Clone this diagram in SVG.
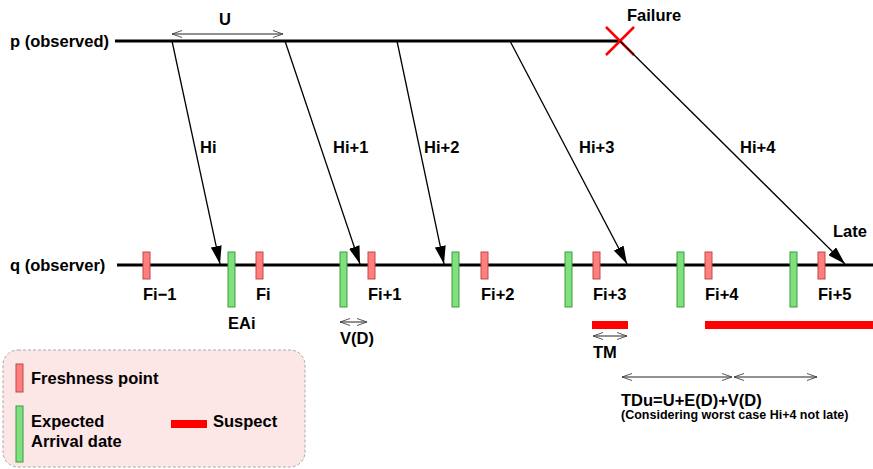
<svg xmlns="http://www.w3.org/2000/svg" width="873" height="469" viewBox="0 0 873 469">
<defs>
<style>
text{font-family:"Liberation Sans",Arial,sans-serif;font-weight:bold;font-size:16.5px;fill:#000}
.fp{fill:#ff7f7f;stroke:#c04848;stroke-width:1}
.ea{fill:#7ee07e;stroke:#3f9a3f;stroke-width:1}
.msg{stroke:#000;stroke-width:1.3;fill:none;marker-end:url(#ah)}
.dim{stroke:#222;stroke-width:1;fill:none;marker-start:url(#oa);marker-end:url(#oa)}
.tl{stroke:#000;stroke-width:3;fill:none}
.sus{fill:#ff0000}
</style>
<marker id="ah" viewBox="0 0 18 11" refX="18" refY="5.5" markerWidth="18" markerHeight="11" markerUnits="userSpaceOnUse" orient="auto">
<path d="M0,0 L18,5.5 L0,11 Z" fill="#000"/>
</marker>
<marker id="oa" viewBox="0 0 10 8" refX="10" refY="4" markerWidth="10" markerHeight="8" markerUnits="userSpaceOnUse" orient="auto-start-reverse">
<path d="M0,0.5 L10,4 L0,7.5" fill="none" stroke="#444" stroke-width="0.9"/>
</marker>
</defs>

<g id="timelines">
<line class="tl" x1="115" y1="41" x2="620" y2="41"/>
<text x="10" y="47">p (observed)</text>
<line class="tl" x1="117" y1="265" x2="873" y2="265"/>
<text x="10" y="271">q (observer)</text>
</g>

<g id="failure">
<path d="M606,27 L634,55 M634,27 L606,55" stroke="#ff0000" stroke-width="2.5" fill="none"/>
<text x="627" y="21">Failure</text>
</g>

<g id="connectors">
<path class="msg" d="M172,41 L220,264"/>
<path class="msg" d="M285,41 L360,264"/>
<path class="msg" d="M397,41 L444,264"/>
<path class="msg" d="M510,41 L627,264"/>
<path class="msg" d="M620,41 L845,264"/>
<path class="dim" d="M172,34 L283,34"/>
<path class="dim" d="M340,322 L367,322"/>
<path class="dim" d="M593,336 L627,336"/>
<path class="dim" d="M622,377 L732,377"/>
<path class="dim" d="M734,377 L817,377"/>
</g>

<g id="msg-labels">
<text x="219" y="25">U</text>
<text x="200" y="153">Hi</text>
<text x="333" y="153">Hi+1</text>
<text x="424" y="153">Hi+2</text>
<text x="579" y="153">Hi+3</text>
<text x="740" y="153">Hi+4</text>
<text x="833" y="237">Late</text>
</g>

<g id="freshness-points">
<rect class="fp" x="143" y="252" width="7" height="27"/>
<rect class="fp" x="256" y="252" width="7" height="27"/>
<rect class="fp" x="368" y="252" width="7" height="27"/>
<rect class="fp" x="481" y="252" width="7" height="27"/>
<rect class="fp" x="593" y="252" width="7" height="27"/>
<rect class="fp" x="705" y="252" width="7" height="27"/>
<rect class="fp" x="818" y="252" width="7" height="27"/>
<text x="143" y="300">Fi−1</text>
<text x="256" y="300">Fi</text>
<text x="368" y="300">Fi+1</text>
<text x="481" y="300">Fi+2</text>
<text x="593" y="300">Fi+3</text>
<text x="705" y="300">Fi+4</text>
<text x="818" y="300">Fi+5</text>
</g>

<g id="expected-arrivals">
<rect class="ea" x="228" y="252" width="7" height="55"/>
<rect class="ea" x="340" y="252" width="7" height="55"/>
<rect class="ea" x="452" y="252" width="7" height="55"/>
<rect class="ea" x="565" y="252" width="7" height="55"/>
<rect class="ea" x="677" y="252" width="7" height="55"/>
<rect class="ea" x="790" y="252" width="7" height="55"/>
<text x="228" y="329">EAi</text>
<text x="340" y="344">V(D)</text>
</g>

<g id="suspect">
<rect class="sus" x="592" y="321" width="36" height="8"/>
<rect class="sus" x="705" y="321" width="168" height="8"/>
<text x="593" y="358">TM</text>
</g>

<g id="tdu">
<text x="621" y="406">TDu=U+E(D)+V(D)</text>
<text x="621" y="419" style="font-size:12.5px">(Considering worst case Hi+4 not late)</text>
</g>

<g id="legend">
<rect x="3" y="350" width="302" height="117" rx="15" ry="15" fill="#fde6e6" stroke="#aaa" stroke-width="1" stroke-dasharray="3,2"/>
<rect class="fp" x="16" y="364" width="7" height="28"/>
<text x="31" y="384">Freshness point</text>
<rect class="ea" x="16" y="406" width="7" height="56"/>
<text x="31" y="427">Expected</text>
<text x="31" y="447">Arrival date</text>
<rect class="sus" x="171" y="420" width="36" height="8"/>
<text x="213" y="427">Suspect</text>
</g>
</svg>
